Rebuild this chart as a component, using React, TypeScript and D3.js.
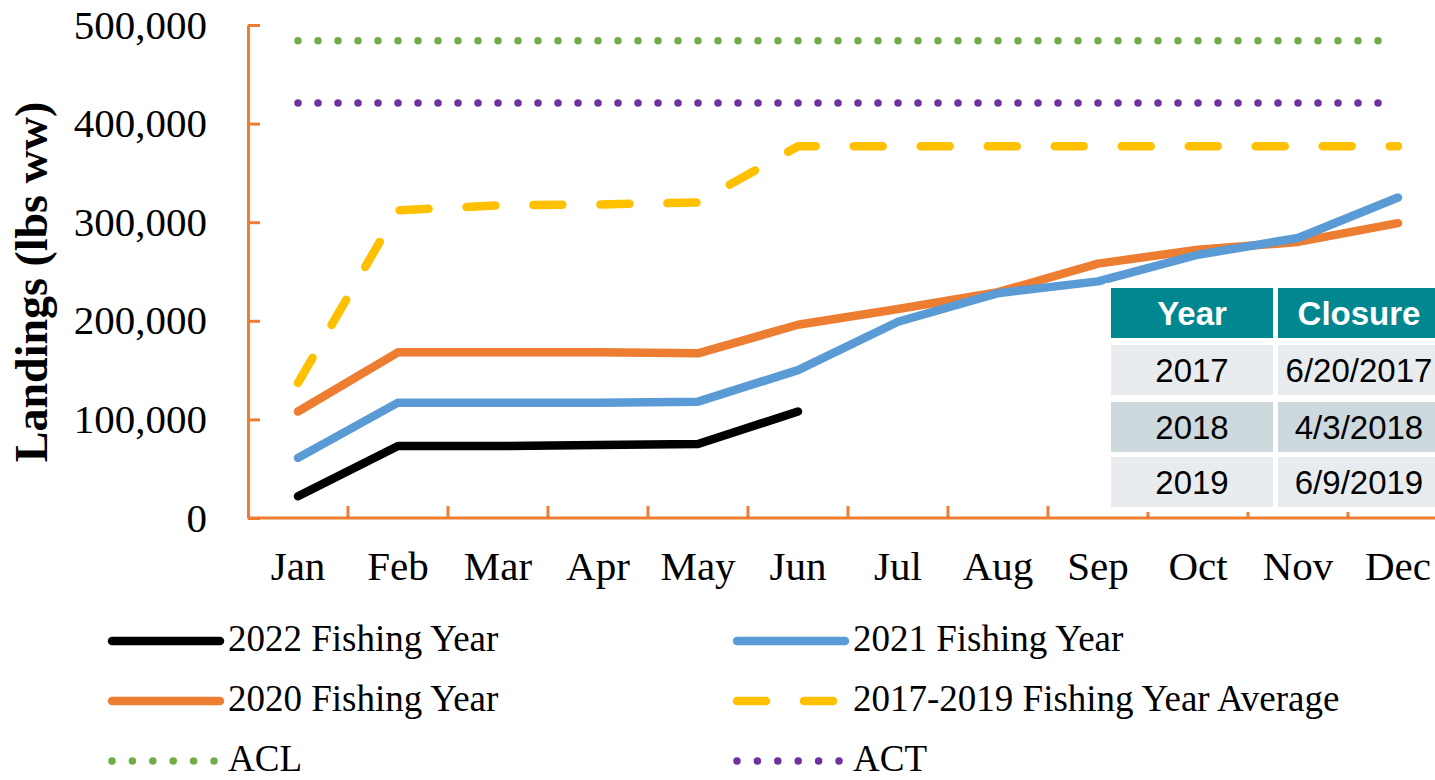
import React, { useEffect, useRef } from 'react'
import * as d3 from 'd3'

// monthly cumulative landings (lbs ww)
const months = ["Jan", "Feb", "Mar", "Apr", "May", "Jun", "Jul", "Aug", "Sep", "Oct", "Nov", "Dec"]
const fy2022 = [22000, 73000, 73000, 74000, 75000, 108000]
const fy2021 = [61000, 117000, 117000, 117000, 118000, 150000, 199000, 228000, 240000, 267000, 284000, 325000]
const fy2020 = [108000, 168000, 168000, 168000, 167000, 196000, 212000, 229000, 258000, 272000, 280000, 299000]
const avg2017to2019 = [137000, 312000, 317000, 318000, 320000, 377000, 377000, 377000, 377000, 377000, 377000, 377000]
const aclValue = 484000
const actValue = 421000
const yTicks = [0, 100000, 200000, 300000, 400000, 500000]

// closure table
const closureYears = ["2017", "2018", "2019"]
const closureDates = ["6/20/2017", "4/3/2018", "6/9/2019"]

const ORANGE = "#ED7D31"

export default function App() {
  const ref = useRef<SVGSVGElement>(null)

  useEffect(() => {
    const svg = d3.select(ref.current)
    svg.selectAll("*").remove()

    const left = 248, right = 1448, top = 25, bottom = 518

    const x = d3.scaleBand().domain(months).range([left, right])
    const y = d3.scaleLinear().domain([0, 500000]).range([bottom, top])
    const cx = (m: string) => (x(m) as number) + x.bandwidth() / 2

    const series = [
      { name: "ACL", values: months.map(() => aclValue), color: "#70AD47", dash: "0,20", width: 7.5 },
      { name: "ACT", values: months.map(() => actValue), color: "#7030A0", dash: "0,20", width: 7.5 },
      { name: "2017-2019 Fishing Year Average", values: avg2017to2019, color: "#FFC000", dash: "29,38", width: 8.5 },
      { name: "2020 Fishing Year", values: fy2020, color: ORANGE, dash: null, width: 8.5 },
      { name: "2021 Fishing Year", values: fy2021, color: "#5B9BD5", dash: null, width: 8.5 },
      { name: "2022 Fishing Year", values: fy2022, color: "#000000", dash: null, width: 8.5 },
    ]

    const line = d3.line<number>()
      .x((d, i) => cx(months[i]))
      .y(d => y(d))

    // y axis
    const yAxis = svg.append("g")
      .attr("transform", "translate(" + left + ",0)")
      .call(d3.axisLeft(y).tickValues(yTicks).tickSizeInner(-12).tickSizeOuter(0).tickPadding(41).tickFormat(d3.format(",")))
    yAxis.select(".domain").attr("stroke", ORANGE).attr("stroke-width", 3)
    yAxis.selectAll(".tick line").attr("stroke", ORANGE).attr("stroke-width", 3)
    yAxis.selectAll(".tick text")
      .attr("fill", "#000")
      .style("font-family", "'Liberation Serif', 'Times New Roman', serif")
      .style("font-size", "41px")

    // x axis, ticks between the months
    svg.append("line")
      .attr("x1", left).attr("x2", right)
      .attr("y1", bottom).attr("y2", bottom)
      .attr("stroke", ORANGE).attr("stroke-width", 3)
    svg.selectAll(".xtick")
      .data(months.slice(1))
      .enter()
      .append("line")
      .attr("x1", d => x(d) as number).attr("x2", d => x(d) as number)
      .attr("y1", bottom).attr("y2", bottom - 12)
      .attr("stroke", ORANGE).attr("stroke-width", 3)
    svg.selectAll(".xlabel")
      .data(months)
      .enter()
      .append("text")
      .attr("x", d => cx(d))
      .attr("y", 580)
      .attr("text-anchor", "middle")
      .style("font-family", "'Liberation Serif', 'Times New Roman', serif")
      .style("font-size", "41px")
      .text(d => d)

    // y axis title
    svg.append("text")
      .attr("transform", "translate(47,282) rotate(-90)")
      .attr("text-anchor", "middle")
      .style("font-family", "'Liberation Serif', 'Times New Roman', serif")
      .style("font-size", "46px")
      .style("font-weight", "bold")
      .text("Landings (lbs ww)")

    // lines
    svg.selectAll(".series")
      .data(series)
      .enter()
      .append("path")
      .attr("d", d => line(d.values))
      .attr("fill", "none")
      .attr("stroke", d => d.color)
      .attr("stroke-width", d => d.width)
      .attr("stroke-linecap", "round")
      .attr("stroke-linejoin", "round")
      .attr("stroke-dasharray", d => d.dash)

    // closure table
    const table = svg.append("g")
    table.append("rect")
      .attr("x", 1105).attr("y", 283).attr("width", 340).attr("height", 229)
      .attr("fill", "#fff")
    const rows = [["Year", "Closure"]].concat(closureYears.map((yr, i) => [yr, closureDates[i]]))
    const rowTops = [288, 345, 402, 457]
    const rowFills = ["#00878F", "#E8ECEE", "#CDD9DC", "#E8ECEE"]
    const colLefts = [1111, 1278]
    rows.forEach((row, r) => {
      row.forEach((cell, c) => {
        table.append("rect")
          .attr("x", colLefts[c]).attr("y", rowTops[r])
          .attr("width", 162).attr("height", 50)
          .attr("fill", rowFills[r])
        table.append("text")
          .attr("x", colLefts[c] + 81)
          .attr("y", rowTops[r] + 37)
          .attr("text-anchor", "middle")
          .attr("fill", r === 0 ? "#fff" : "#000")
          .style("font-family", "'Liberation Sans', Arial, sans-serif")
          .style("font-size", "33px")
          .style("font-weight", r === 0 ? "bold" : "normal")
          .text(cell)
      })
    })

    // legend, two columns
    const legendOrder = ["2022 Fishing Year", "2021 Fishing Year", "2020 Fishing Year", "2017-2019 Fishing Year Average", "ACL", "ACT"]
    const legendItems = legendOrder.map(n => series.find(s => s.name === n)!)
    const legend = svg.selectAll(".legend")
      .data(legendItems)
      .enter()
      .append("g")
      .attr("transform", (d, i) => "translate(" + (i % 2 === 0 ? 112 : 737) + "," + (641 + Math.floor(i / 2) * 60) + ")")
    legend.append("line")
      .attr("x1", 0).attr("x2", d => d.dash === "0,20" ? 103 : (d.dash ? 100 : 108))
      .attr("y1", 0).attr("y2", 0)
      .attr("stroke", d => d.color)
      .attr("stroke-width", d => d.width)
      .attr("stroke-linecap", "round")
      .attr("stroke-dasharray", d => d.dash === "0,20" ? "0,20.4" : d.dash)
    legend.append("text")
      .attr("x", 116)
      .attr("y", 10)
      .style("font-family", "'Liberation Serif', 'Times New Roman', serif")
      .style("font-size", "37px")
      .text(d => d.name)
  }, [])

  return (
    <svg ref={ref} width={1435} height={780}
      style={{ position: 'absolute', left: 0, top: 0, background: '#fff' }} />
  )
}
